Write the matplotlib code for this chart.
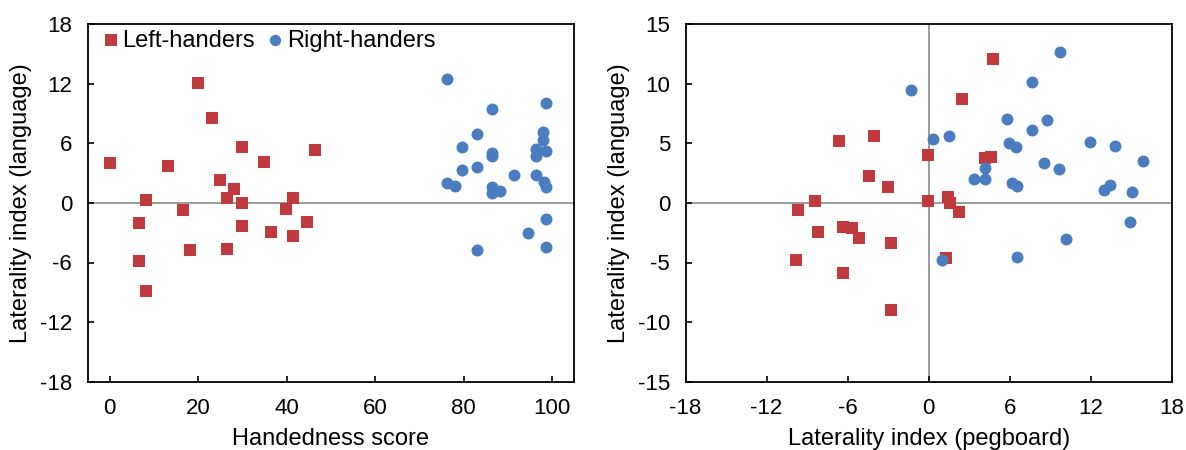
import matplotlib
matplotlib.use("Agg")
import matplotlib.pyplot as plt

plt.rcParams['font.family'] = ['Liberation Sans', 'DejaVu Sans']
plt.rcParams['axes.unicode_minus'] = False

# ---- Left panel: handedness score vs language laterality ----
hand_left_x = [0, 19.9, 23.2, 29.8, 46.5, 13.2, 34.9, 24.9, 28.2, 26.4, 8.1, 29.8,
               41.4, 16.6, 39.9, 6.6, 29.8, 44.7, 36.5, 41.4, 18.2, 26.4, 6.6, 8.1]
lang_left_y = [4.0, 12.1, 8.6, 5.6, 5.3, 3.7, 4.1, 2.3, 1.4, 0.5, 0.3, 0.0,
               0.5, -0.7, -0.6, -2.0, -2.3, -1.9, -2.9, -3.3, -4.7, -4.6, -5.8, -8.9]
hand_right_x = [76.3, 86.3, 98.5, 83.0, 98.0, 98.0, 79.6, 86.3, 86.3, 96.3, 96.3, 98.7,
                79.6, 83.0, 91.3, 96.3, 76.3, 78.1, 86.3, 88.1, 86.3, 98.1, 98.5, 98.5,
                94.5, 83.0, 98.5]
lang_right_y = [12.5, 9.5, 10.1, 6.9, 7.1, 6.3, 5.6, 5.0, 4.7, 5.4, 4.7, 5.2,
                3.3, 3.6, 2.8, 2.8, 2.0, 1.7, 1.6, 1.2, 1.0, 2.1, 1.6, -1.6,
                -3.0, -4.7, -4.4]

# ---- Right panel: pegboard laterality vs language laterality ----
peg_left_x = [4.8, 2.5, -6.6, -4.05, -0.05, 4.2, 4.6, -4.4, -3.0, -8.4, -0.05, 1.4,
              1.6, 2.25, 1.25, -9.65, -8.2, -6.35, -5.7, -5.15, -2.75, -9.85, -6.35, -2.75]
peg_left_y = [12.1, 8.75, 5.2, 5.6, 4.05, 3.8, 3.9, 2.25, 1.3, 0.15, 0.2, 0.5,
              0.0, -0.8, -4.6, -0.6, -2.4, -2.0, -2.1, -2.95, -3.4, -4.8, -5.9, -9.0]
peg_right_x = [-1.33, 0.35, 1.48, 9.73, 7.63, 5.83, 8.79, 7.63, 5.95, 6.44, 11.95, 13.83,
               15.9, 8.54, 9.65, 4.17, 4.17, 3.36, 6.15, 6.57, 12.99, 13.43, 15.09, 14.91,
               10.15, 6.57, 1.0]
peg_right_y = [9.5, 5.36, 5.58, 12.7, 10.19, 7.08, 6.93, 6.14, 5.02, 4.73, 5.15, 4.79,
               3.49, 3.32, 2.81, 2.9, 2.05, 1.97, 1.68, 1.4, 1.12, 1.48, 0.92, -1.63,
               -3.03, -4.53, -4.8]

left_xticks = [0, 20, 40, 60, 80, 100]
left_yticks = [-18, -12, -6, 0, 6, 12, 18]
right_xticks = [-18, -12, -6, 0, 6, 12, 18]
right_yticks = [-15, -10, -5, 0, 5, 10, 15]

RED = '#C0393C'
BLUE = '#4A7DBF'
GRID = '#808080'

fig = plt.figure(figsize=(11.86, 4.5), dpi=100)
ax1 = fig.add_axes([0.0738, 0.152, 0.4105, 0.794])
ax2 = fig.add_axes([0.578, 0.152, 0.410, 0.794])

def style(ax):
    for s in ax.spines.values():
        s.set_linewidth(1.3)
        s.set_color('black')
    ax.tick_params(direction='in', length=4, width=1.2, labelsize=16,
                   top=False, right=False)
    ax.tick_params(axis='y', pad=11)
    ax.tick_params(axis='x', pad=12)

# Left panel
ax1.axhline(0, color=GRID, lw=1.1, zorder=1)
ax1.scatter(hand_left_x, lang_left_y, marker='s', s=80, color=RED, lw=0,
            zorder=3, label='Left-handers')
ax1.scatter(hand_right_x, lang_right_y, marker='o', s=74, color=BLUE, lw=0,
            zorder=3, label='Right-handers')
ax1.set_xlim(-5, 105)
ax1.set_ylim(-18, 18)
ax1.set_xticks(left_xticks)
ax1.set_yticks(left_yticks)
ax1.set_xlabel('Handedness score', fontsize=17, labelpad=6)
ax1.set_ylabel('Laterality index (language)', fontsize=17, labelpad=6)
style(ax1)
ax1.legend(loc='upper left', bbox_to_anchor=(0.028, 0.985), ncol=2, frameon=False,
           fontsize=17, handlelength=0.8, handletextpad=0.1, columnspacing=0.45,
           borderpad=0, borderaxespad=0, markerscale=0.95)

# Right panel
ax2.axhline(0, color=GRID, lw=1.1, zorder=1)
ax2.axvline(0, color=GRID, lw=1.1, zorder=1)
ax2.scatter(peg_left_x, peg_left_y, marker='s', s=80, color=RED, lw=0, zorder=3)
ax2.scatter(peg_right_x, peg_right_y, marker='o', s=74, color=BLUE, lw=0, zorder=3)
ax2.set_xlim(-18, 18)
ax2.set_ylim(-15, 15)
ax2.set_xticks(right_xticks)
ax2.set_yticks(right_yticks)
ax2.set_xlabel('Laterality index (pegboard)', fontsize=17, labelpad=6)
ax2.set_ylabel('Laterality index (language)', fontsize=17, labelpad=6)
style(ax2)

fig.savefig('out.png', dpi=100)
